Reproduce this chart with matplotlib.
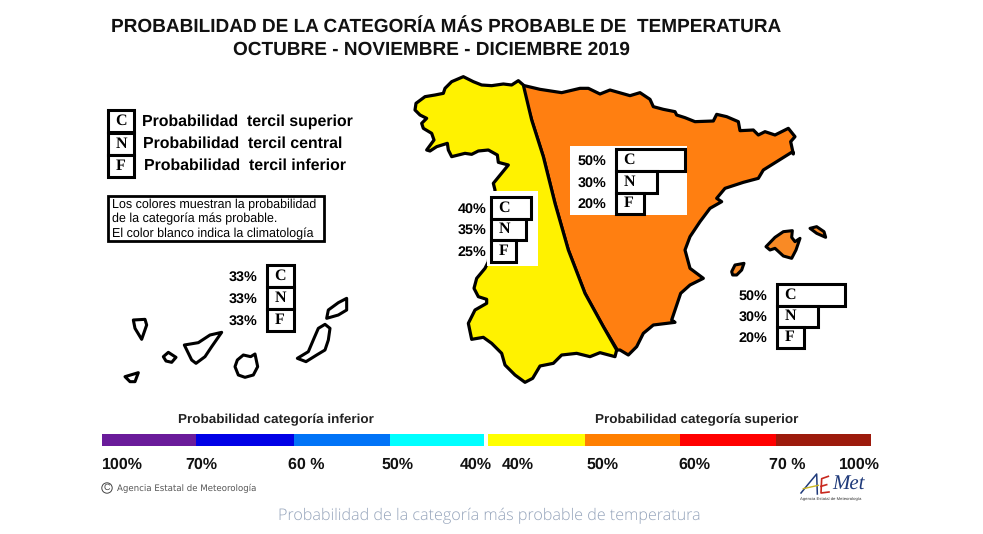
#!/usr/bin/env python3
"""Probabilidad de la categoria mas probable de temperatura, OND 2019 (AEMET map)."""
import matplotlib
matplotlib.use("Agg")
import matplotlib.pyplot as plt
from matplotlib.patches import Polygon, Rectangle, Circle

# forecast blocks: C / N / F percentages
LETTERS = ["C", "N", "F"]
EAST_PCT = [50, 30, 20]
WEST_PCT = [40, 35, 25]
BALEAR_PCT = [50, 30, 20]
CANARY_PCT = [33, 33, 33]

# colour scale
SCALE_EDGES_LOW = [102, 196, 294, 390, 484]
SCALE_COLORS_LOW = ["#6A1B9A", "#0000E6", "#0073F7", "#00FFFF"]
SCALE_EDGES_HIGH = [488, 585, 680, 776, 871]
SCALE_COLORS_HIGH = ["#FFFF00", "#FF7F00", "#FF0000", "#9C1A0C"]
SCALE_LABELS = ["100%", "70%", "60 %", "50%", "40%", "40%", "50%", "60%", "70 %", "100%"]
SCALE_LABEL_X = [122, 201, 306, 398, 476, 518, 603, 694, 787, 859]

COAST_N = [(5, 15), (60, 28), (125, 38), (180, 25), (205, 25), (240, 42), (270, 30), (330, 47), (360, 38), (390, 58),
           (400, 80), (430, 88), (465, 95), (470, 105), (495, 113), (525, 125), (580, 123), (590, 103), (620, 110),
           (655, 125), (660, 152), (700, 150), (715, 165), (735, 155), (765, 165), (805, 145), (825, 170), (812, 185),
           (820, 222)]
COAST_E = [(548, 5), (500, 35), (460, 60), (445, 85), (400, 97), (345, 115), (320, 145), (335, 155), (300, 175),
           (270, 215), (240, 260), (225, 300), (240, 355), (280, 385), (240, 405), (212, 430), (185, 510), (195, 517),
           (130, 525), (100, 550), (80, 590), (55, 615), (30, 600), (22, 600)]
COAST_S = [(470, 270), (465, 290), (420, 278), (390, 290), (350, 280), (305, 285), (280, 310), (240, 318), (218, 355),
           (195, 367), (165, 345), (135, 315), (125, 280), (95, 250), (70, 232), (35, 238), (25, 190), (45, 150),
           (80, 130), (80, 118), (55, 110), (42, 85), (50, 55), (75, 25), (85, 5)]
COAST_NW = [(255, 345), (250, 325), (295, 270), (265, 262), (262, 240), (235, 225), (205, 228), (185, 238), (165, 235),
            (125, 245), (115, 225), (112, 205), (80, 215), (60, 228), (50, 225), (72, 195), (65, 175), (40, 160),
            (35, 145), (50, 130), (30, 120), (15, 105), (18, 85), (45, 65), (75, 60), (100, 55), (105, 40), (125, 20),
            (160, 5), (190, 20), (215, 30), (245, 32), (280, 27), (305, 30), (325, 17), (340, 30)]
DIVIDE = [(395, 150), (430, 260), (465, 400), (505, 540), (555, 670), (610, 770)]

MALLORCA = [(468, 290), (495, 262), (520, 245), (547, 242), (545, 262), (555, 275), (570, 265), (558, 300), (545, 325),
            (520, 318), (495, 295), (480, 300)]
IBIZA = [(365, 365), (375, 345), (402, 340), (395, 360), (380, 375), (368, 375)]
MENORCA = [(270, 25), (290, 20), (312, 35), (317, 52), (290, 40)]

HIERRO = [(105, 350), (145, 338), (135, 365), (120, 365)]
GOMERA = [(220, 290), (235, 277), (258, 292), (245, 307), (228, 303)]
PALMA = [(130, 180), (165, 178), (170, 195), (155, 238), (135, 205)]
TENERIFE = [(283, 255), (325, 248), (360, 225), (395, 217), (365, 260), (345, 290), (318, 310), (305, 300)]
GRAN_CANARIA = [(435, 320), (442, 300), (460, 285), (482, 290), (495, 282), (503, 320), (490, 345), (465, 352),
                (445, 345)]
FUERTEVENTURA = [(622, 295), (655, 275), (672, 235), (685, 205), (705, 193), (720, 205), (715, 240), (705, 270),
                 (680, 285), (648, 305)]
LANZAROTE = [(710, 175), (715, 150), (745, 128), (770, 115), (770, 150), (745, 165)]

C_ORANGE = "#FF7F11"
C_YELLOW = "#FFF200"
C_NAVY = "#1F3A7A"
SANS = "Liberation Sans"
SERIF = "Liberation Serif"

plt.rcParams["font.family"] = SANS
plt.rcParams["text.hinting"] = "no_hinting"


def crop(pts, x0, y0):
    return [(x0 + x / 3, y0 + y / 3) for x, y in pts]


def shape(ax, pts, fc, lw=2.3, z=2):
    ax.add_patch(Polygon(pts, closed=True, fc=fc, ec="black", lw=lw, joinstyle="round", zorder=z))


def block(ax, pcts, left, tops, scale, text_x):
    # one outlined bar per category, width follows the percentage
    for i, (p, l) in enumerate(zip(pcts, LETTERS)):
        y = (tops[i] + tops[i + 1]) / 2
        h = tops[i + 1] - tops[i]
        ax.barh(y, p * scale, height=h, left=left, fc="white", ec="black", lw=2.2, zorder=5)
        ax.text(left + 13, y, l, family=SERIF, fontweight="bold", fontsize=11.5, ha="center", va="center", zorder=6)
        ax.text(text_x, y + 1, f"{p}%", fontweight="bold", fontsize=10.4, ha="center", va="center", zorder=6)


fig = plt.figure(figsize=(9.83, 5.34), dpi=100)
ax = fig.add_axes([0, 0, 1, 1])
ax.set_xlim(0, 983)
ax.set_ylim(534, 0)
ax.axis("off")

# titles
ax.text(446, 28, "PROBABILIDAD DE LA CATEGORÍA MÁS PROBABLE DE  TEMPERATURA", fontweight="bold", fontsize=13.7,
        ha="center", va="center", color="#111")
ax.text(431, 50, "OCTUBRE - NOVIEMBRE - DICIEMBRE 2019", fontweight="bold", fontsize=13.7, ha="center", va="center",
        color="#111")

# mainland
north = crop(COAST_N, 520, 80)
east = crop(COAST_E, 610, 150)
south = crop(COAST_S, 460, 260)
nw = crop(COAST_NW, 410, 75)
split = crop(DIVIDE, 400, 70)
shape(ax, north + east + split[::-1], C_ORANGE)
shape(ax, south + nw + split, C_YELLOW)

# islands
shape(ax, crop(MALLORCA, 610, 150), "#F98A25", lw=2.2)
shape(ax, crop(IBIZA, 610, 150), "#F98A25", lw=2.2)
shape(ax, crop(MENORCA, 720, 220), "#F98A25", lw=2.2)
for isl in (HIERRO, GOMERA, PALMA, TENERIFE, GRAN_CANARIA, FUERTEVENTURA, LANZAROTE):
    shape(ax, crop(isl, 90, 260), "white", lw=2.2)

# white panels behind the blocks
ax.add_patch(Rectangle((570, 146), 117, 69, fc="white", ec="none", zorder=4))
ax.add_patch(Rectangle((487, 191), 51, 75, fc="white", ec="none", zorder=4))

block(ax, EAST_PCT, 616, [149, 171, 193, 214], 1.38, 592)
block(ax, WEST_PCT, 491, [197, 219, 240, 262], 1.0, 472)
block(ax, BALEAR_PCT, 777, [284, 306, 327, 348], 1.36, 753)
block(ax, CANARY_PCT, 267, [265, 287, 309, 331], 0.82, 243)

# legend
for l, y in zip(LETTERS, [121, 144, 166]):
    ax.add_patch(Rectangle((108, y - 11), 26, 22, fc="white", ec="black", lw=2.2, zorder=3))
    ax.text(121, y, l, family=SERIF, fontweight="bold", fontsize=11.5, ha="center", va="center", zorder=4)
ax.text(142, 122, "Probabilidad  tercil superior", fontweight="bold", fontsize=11.4, va="center")
ax.text(143, 144, "Probabilidad  tercil central", fontweight="bold", fontsize=11.4, va="center")
ax.text(144, 166, "Probabilidad  tercil inferior", fontweight="bold", fontsize=11.4, va="center")

ax.add_patch(Rectangle((108, 196), 216, 45, fc="white", ec="black", lw=2, zorder=3))
for txt, y in zip(["Los colores muestran la probabilidad", "de la categoría más probable.",
                   "El color blanco indica la climatología"], [205, 219, 234]):
    ax.text(112, y, txt, fontsize=9.0, va="center", zorder=4)

# colour scale
for edges, cols in ((SCALE_EDGES_LOW, SCALE_COLORS_LOW), (SCALE_EDGES_HIGH, SCALE_COLORS_HIGH)):
    for a, b, c in zip(edges[:-1], edges[1:], cols):
        ax.barh(440, b - a, height=12, left=a, color=c, lw=0)
ax.text(276, 420, "Probabilidad categoría inferior", fontweight="bold", fontsize=9.7, ha="center", va="center",
        color="#222")
ax.text(697, 420, "Probabilidad categoría superior", fontweight="bold", fontsize=9.7, ha="center", va="center",
        color="#222")
for lab, x in zip(SCALE_LABELS, SCALE_LABEL_X):
    ax.text(x, 465, lab, fontweight="bold", fontsize=11.5, ha="center", va="center", color="#111")

# credits
ax.add_patch(Circle((107, 488), 5.2, fc="none", ec="#444", lw=0.7))
ax.text(107, 488, "C", fontsize=6.5, ha="center", va="center", color="#444")
ax.text(117, 488, "Agencia Estatal de Meteorología", family="DejaVu Sans", fontsize=6.2, va="center", color="#555")
ax.text(278, 516, "Probabilidad de la categoría más probable de temperatura", family="Open Sans", fontweight="light",
        fontsize=11.6, va="center", color="#94A3BA")

# logo, hand drawn strokes for the A and the E
ax.plot(*zip(*crop([(48, 75), (70, 48), (95, 18), (97, 78)], 785, 468)), color=C_NAVY, lw=1.1)
ax.plot(*zip(*crop([(55, 62), (100, 52)], 785, 468)), color="#C9B520", lw=1)
ax.plot(*zip(*crop([(130, 25), (110, 32), (108, 75), (132, 72)], 785, 468)), color="#C8281E", lw=1.2)
ax.plot(*zip(*crop([(108, 55), (125, 50)], 785, 468)), color="#C8281E", lw=1.2)
ax.text(848, 484, "Met", family=SERIF, style="italic", fontsize=15, ha="center", va="center", color=C_NAVY)
ax.text(831, 499.5, "Agencia Estatal de Meteorología", fontsize=3.1, ha="center", va="center", color="#333")

fig.savefig("out.png", dpi=100)
